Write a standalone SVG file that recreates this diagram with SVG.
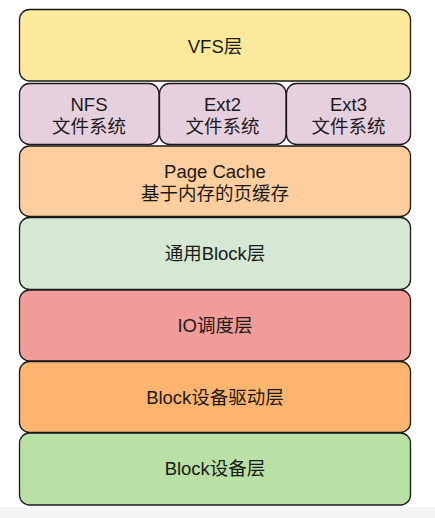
<svg xmlns="http://www.w3.org/2000/svg" width="435" height="518" viewBox="0 0 435 518">
<style>
.b{stroke:#1a1a1a;stroke-width:1.3}
.t{font-family:"Liberation Sans","Noto Sans CJK SC",sans-serif;font-size:18.5px;fill:#1a1a1a;text-anchor:middle}
</style>
<rect x="0" y="0" width="435" height="518" fill="#ffffff"/>
<rect x="0" y="507" width="435" height="11" fill="#f4f4f4"/>
<g id="vfs"><rect class="b" x="19.5" y="9.5" width="391" height="71.5" rx="10" fill="#fde99c"/><text class="t" x="215" y="53">VFS层</text></g>
<g id="nfs"><rect class="b" x="19.5" y="83.5" width="139.5" height="61" rx="10" fill="#e6d0de"/><text class="t" x="89" y="111">NFS</text><text class="t" x="89" y="133">文件系统</text></g>
<g id="ext2"><rect class="b" x="159.5" y="83.5" width="126.5" height="61" rx="10" fill="#e6d0de"/><text class="t" x="222.5" y="111">Ext2</text><text class="t" x="222.5" y="133">文件系统</text></g>
<g id="ext3"><rect class="b" x="286.5" y="83.5" width="124" height="61" rx="10" fill="#e6d0de"/><text class="t" x="348.5" y="111">Ext3</text><text class="t" x="348.5" y="133">文件系统</text></g>
<g id="pagecache"><rect class="b" x="19.5" y="146" width="391" height="70.5" rx="10" fill="#ffce9f"/><text class="t" x="215" y="178">Page Cache</text><text class="t" x="215" y="200">基于内存的页缓存</text></g>
<g id="block"><rect class="b" x="19.5" y="217.5" width="391" height="72" rx="10" fill="#d5e8d4"/><text class="t" x="215" y="260">通用Block层</text></g>
<g id="io"><rect class="b" x="19.5" y="290" width="391" height="71" rx="10" fill="#f19c99"/><text class="t" x="215" y="332">IO调度层</text></g>
<g id="driver"><rect class="b" x="19.5" y="361.5" width="391" height="71" rx="10" fill="#ffb570"/><text class="t" x="215" y="404">Block设备驱动层</text></g>
<g id="device"><rect class="b" x="19.5" y="433" width="391" height="72" rx="10" fill="#b9e0a5"/><text class="t" x="215" y="475">Block设备层</text></g>
<g id="connectors"></g>
</svg>
